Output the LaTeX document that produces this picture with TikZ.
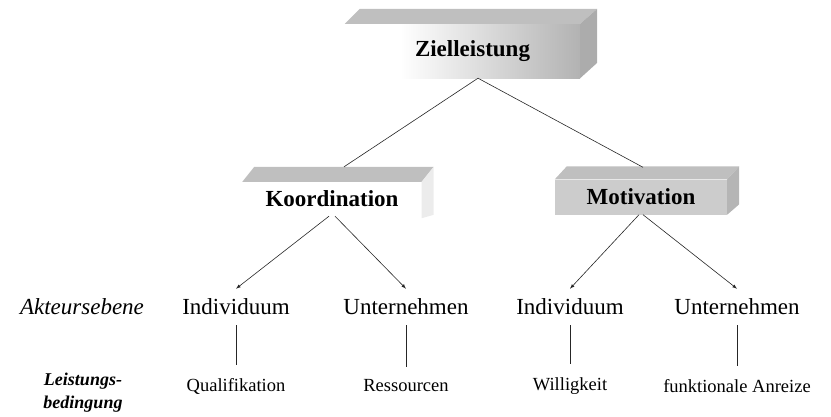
\documentclass[tikz,border=0pt]{standalone}
\usepackage{fontspec}
\setmainfont{Liberation Serif}
\usetikzlibrary{arrows}

\begin{document}
\begin{tikzpicture}[x=1pt, y=-1pt, >=latex,
		quader/.style={minimum width=#1, inner sep=0pt, font=\fontsize{23}{27}\selectfont\bfseries},
		ebene2/.style={font=\fontsize{23}{27}\selectfont, inner xsep=2pt, inner ysep=10pt},
		ebene3/.style={font=\fontsize{18.5}{22}\selectfont, inner xsep=2pt, inner ysep=13pt},
		kante/.style={draw=black!85, line width=0.6pt}]
	% Bildbereich
	\useasboundingbox (0,0) rectangle (831,416);
	% Quader oben
	\node[quader=180pt, minimum height=54pt, inner xsep=15pt, text width=150pt, align=left,
		left color=white, right color=gray!60] (ziel) at (490,51) {Zielleistung};
	\fill[gray!50] ([xshift=-55pt]ziel.north west) -- ++(15,-15) -- ([xshift=17pt,yshift=15pt]ziel.north east) -- (ziel.north east) -- cycle;
	\fill[gray!65] (ziel.north east) -- ++(17,-15) -- ++(0,54) -- (ziel.south east) -- cycle;
	% Quader Mitte
	\node[quader=179pt, minimum height=34pt] (koord) at (332,199) {Koordination};
	\fill[gray!50] (koord.north west) -- ++(12,-15) -- ([xshift=12pt,yshift=15pt]koord.north east) -- (koord.north east) -- cycle;
	\fill[gray!15] (koord.north east) -- ++(12,-15) -- ++(0,48) -- ([yshift=-2pt]koord.south east) -- cycle;
	\node[quader=172pt, minimum height=35pt, fill=gray!40] (moti) at (641,197) {Motivation};
	\fill[gray!50] (moti.north west) -- ++(12,-13) -- ([xshift=12pt,yshift=13pt]moti.north east) -- (moti.north east) -- cycle;
	\fill[gray!58] (moti.north east) -- ++(12,-13) -- ++(0,38) -- (moti.south east) -- cycle;
	% Akteursebene
	\node[ebene2, font=\fontsize{23}{27}\selectfont\itshape] (akteur) at (82,307) {Akteursebene};
	\node[ebene2] (ind1) at (236,307) {Individuum};
	\node[ebene2] (unt1) at (406,307) {Unternehmen};
	\node[ebene2] (ind2) at (570,307) {Individuum};
	\node[ebene2] (unt2) at (737,307) {Unternehmen};
	% Leistungsbedingung
	\node[align=center, font=\fontsize{18}{23}\selectfont\bfseries\itshape] (leist) at (83,393) {Leistungs-\\bedingung};
	\node[ebene3] (quali) at (236,386) {Qualifikation};
	\node[ebene3] (ress) at (406,386) {Ressourcen};
	\node[ebene3] (willig) at (570,386) {Willigkeit};
	\node[ebene3] (anreiz) at (737,386) {funktionale Anreize};
	% Verbindungen
	\draw[kante] ([xshift=-12pt]ziel.south) -- ([xshift=12pt,yshift=15pt]koord.north);
	\draw[kante] ([xshift=-12pt]ziel.south) -- ([xshift=2pt,yshift=12pt]moti.north);
	\draw[kante,->] ([xshift=-3pt]koord.south) -- (ind1.north);
	\draw[kante,->] ([xshift=3pt]koord.south) -- (unt1.north);
	\draw[kante,->] ([xshift=-2pt]moti.south) -- (ind2.north);
	\draw[kante,->] ([xshift=2pt]moti.south) -- (unt2.north);
	\draw[kante, line width=0.4pt] (ind1) -- (quali);
	\draw[kante, line width=0.4pt] (unt1) -- (ress);
	\draw[kante, line width=0.4pt] (ind2) -- (willig);
	\draw[kante, line width=0.4pt] (unt2) -- (anreiz);
\end{tikzpicture}
\end{document}
